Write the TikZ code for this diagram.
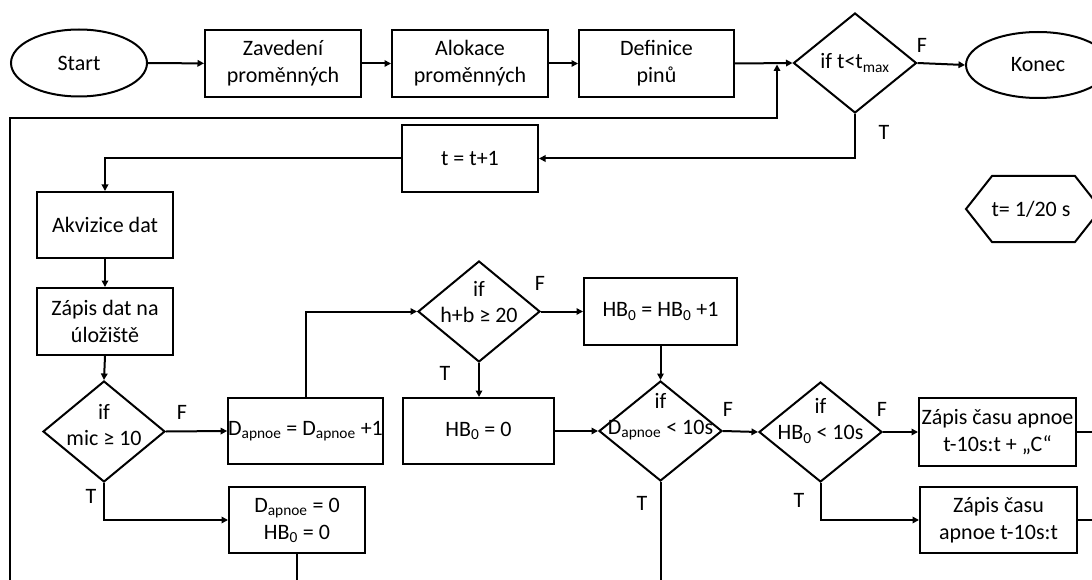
\documentclass[tikz,border=0pt]{standalone}
\usepackage{fontspec}
\setmainfont{Carlito}
\usetikzlibrary{shapes.geometric,arrows.meta}
\begin{document}
\begin{tikzpicture}[x=1pt,y=-1pt,
  every node/.style={font=\fontsize{22}{27}\selectfont},
  box/.style={draw, line width=2pt, rectangle, inner sep=0pt, align=center},
  oval/.style={draw, line width=2pt, ellipse, inner sep=0pt},
  dia/.style={draw, line width=2pt, diamond, inner sep=0pt, minimum width=123pt, minimum height=100pt},
  txt/.style={inner sep=0pt, align=center, font=\fontsize{22}{26}\selectfont},
  lbl/.style={inner sep=0pt},
  con/.style={line width=2pt},
  arr/.style={con, -{Triangle[length=6.5pt,width=6.5pt]}},
]
\path[use as bounding box, clip] (0,0) rectangle (1092,580);

% top row
\node[oval, minimum width=136pt, minimum height=67pt] (start) at (79,63) {Start};
\node[box, minimum width=156pt, minimum height=67pt] (zav) at (283,63.5) {Zavedení\\proměnných};
\node[box, minimum width=156pt, minimum height=67pt] (alo) at (470,63.5) {Alokace\\proměnných};
\node[box, minimum width=155pt, minimum height=67pt] (def) at (656.5,63.5) {Definice\\pinů};
\node[dia] (tmax) at (855,63) {};
\node[txt] (tmaxt) at (855,63) {if t<t\textsubscript{max}};
\node[oval, minimum width=144pt, minimum height=66pt] (konec) at (1038,65) {Konec};

\draw[arr] (start) -- (zav);
\draw[arr] (zav) -- (alo);
\draw[arr] (alo) -- (def);
\draw[arr] (def.east) -- (tmax.west);
\draw[arr] (tmax.east) -- (konec.west);

% loop back
\coordinate (j) at (777,64.5);
\coordinate (lb) at (10,600);
\draw[arr] (lb) -- (10,118) -| (j);

% t = t+1
\node[box, minimum width=136pt, minimum height=67pt] (tt) at (470,158.5) {t = t+1};
\draw[arr] (tmax.south) |- (tt.east);

% hexagon
\draw[line width=2pt] (966,209) -- (992,176) -- (1075,176) -- (1101,209) -- (1075,242) -- (992,242) -- cycle;
\node[txt] (hex) at (1031,209) {t= 1/20 s};

% left column
\node[box, minimum width=136pt, minimum height=66pt] (akv) at (105,225) {Akvizice dat};
\node[box, minimum width=136pt, minimum height=67pt] (zdat) at (105,321.5) {Zápis dat na\\úložiště};
\node[dia, minimum width=122pt, minimum height=101pt] (mic) at (104,431.5) {};
\node[txt] (mict) at (104,425) {if\\mic ≥ 10};
\draw[arr] (tt.west) -| (akv.north);
\draw[arr] (akv) -- (zdat);
\draw[arr] (zdat.south) -- (mic.north);

\node[box, minimum width=153pt, minimum height=66pt] (dap1) at (305.5,431) {D\textsubscript{apnoe} = D\textsubscript{apnoe} +1};
\node[box, minimum width=136pt, minimum height=66pt] (d0) at (297,520) {D\textsubscript{apnoe} = 0\\HB\textsubscript{0} = 0};
\draw[arr] (mic.east) -- (dap1.west);
\draw[arr] (mic.south) |- (d0.west);
\coordinate (d0e) at (297,600);
\draw[con] (d0.south) -- (d0e);

% h+b
\node[dia, minimum width=122pt, minimum height=101pt] (hb) at (479,311.5) {};
\node[txt] (hbt) at (479,302) {if\\h+b ≥ 20};
\draw[arr] (dap1.north) |- (hb.west);
\node[box, minimum width=153pt, minimum height=67pt] (hb1) at (660.5,311.5) {HB\textsubscript{0} = HB\textsubscript{0} +1};
\node[box, minimum width=151pt, minimum height=66pt] (hb0) at (478.5,431) {HB\textsubscript{0} = 0};
\draw[arr] (hb.east) -- (hb1.west);
\draw[arr] (hb.south) -- (hb.south |- hb0.north);

% D apnoe < 10s
\node[dia] (dap) at (660.5,431) {};
\node[txt] (dapt) at (660.5,417) {if\\D\textsubscript{apnoe} < 10s};
\draw[arr] (hb1.south) -- (dap.north);
\draw[arr] (hb0.east) -- (dap.west);
\coordinate (dape) at (660.5,600);
\draw[con] (dap.south) -- (dape);

% HB0 < 10s
\node[dia] (hbs) at (820.5,432) {};
\node[txt] (hbst) at (820.5,421) {if\\HB\textsubscript{0} < 10s};
\draw[arr] (dap.east) -- (hbs.west);
\node[box, minimum width=157pt, minimum height=68pt] (zc) at (997.5,432) {Zápis času apnoe\\t-10s:t + „C“};
\node[box, minimum width=157pt, minimum height=66pt] (zs) at (998.5,520) {Zápis času\\apnoe t-10s:t};
\draw[arr] (hbs.east) -- (zc.west);
\draw[arr] (hbs.south) |- (zs.west);
\coordinate (zce) at (1100,432);
\coordinate (zse) at (1100,520);
\draw[con] (zc.east) -- (zce);
\draw[con] (zs.east) -- (zse);

% F/T labels
\node[lbl] (f1) at (922,45) {F};
\node[lbl] (t1) at (884,132) {T};
\node[lbl] (f2) at (182,412) {F};
\node[lbl] (t2) at (91,496) {T};
\node[lbl] (f3) at (540,283) {F};
\node[lbl] (t3) at (445,373) {T};
\node[lbl] (f4) at (728,409) {F};
\node[lbl] (t4) at (642,503) {T};
\node[lbl] (f5) at (882,409) {F};
\node[lbl] (t5) at (799,500) {T};
\end{tikzpicture}
\end{document}
